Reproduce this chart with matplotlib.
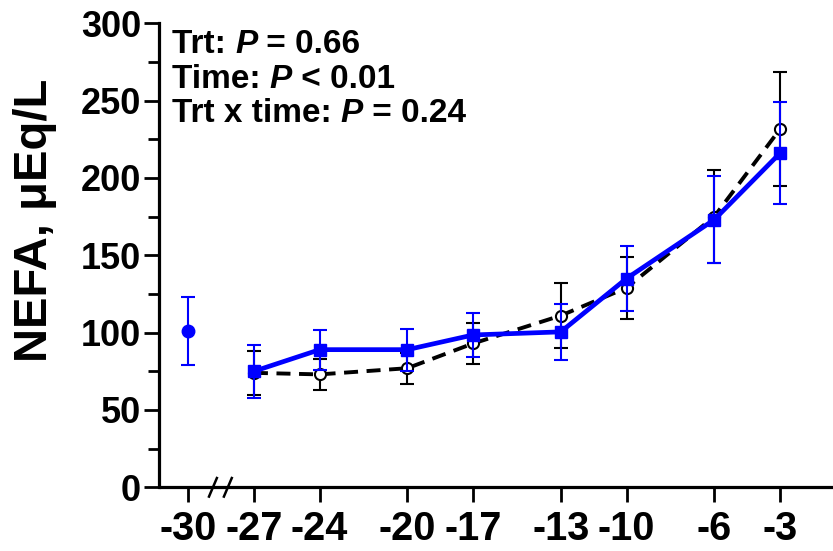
import numpy as np
import matplotlib
matplotlib.use("Agg")
import matplotlib.pyplot as plt
from matplotlib.ticker import MultipleLocator

plt.rcParams['font.family'] = ['Liberation Sans', 'DejaVu Sans']
plt.rcParams['font.weight'] = 'bold'

# days relative to calving
days = [-27, -24, -20, -17, -13, -10, -6, -3]
day_labels = ['-30', '-27', '-24', '-20', '-17', '-13', '-10', '-6', '-3']
tick_days = [-30, -27, -24, -20, -17, -13, -10, -6, -3]

# baseline sample (treated group only)
base_day = -30
base_mean = 101
base_se = 22

# NEFA, uEq/L
trt_mean = [75, 89, 89, 98.5, 100.5, 135, 173, 216]
trt_se = [17, 13, 13.5, 14.5, 18, 21, 28, 33]
ctl_mean = [74, 73, 77, 93, 111, 129, 175, 231.5]
ctl_se = [14, 10, 10, 13.5, 21, 20, 30, 37]

stats_lines = [("Trt: ", "P", " = 0.66"),
               ("Time: ", "P", " < 0.01"),
               ("Trt x time: ", "P", " = 0.24")]

fig = plt.figure(figsize=(8.33, 5.51), dpi=100)
ax = fig.add_axes([0.1909, 0.1156, 0.8091, 0.8421])

# control: dashed black, open circles
ax.errorbar(days, ctl_mean, yerr=ctl_se, color='black', lw=2.8,
            dashes=(3.6, 2.2), marker='o', ms=8, mfc='white', mec='black',
            mew=1.5, ecolor='black', elinewidth=1.5, capsize=4.8,
            capthick=1.5, zorder=2)

# treatment: solid blue, filled squares
ax.errorbar(days, trt_mean, yerr=trt_se, color='#0000ff', lw=3.4,
            marker='s', ms=8, mfc='#0000ff', mec='#0000ff',
            ecolor='#0000ff', elinewidth=1.5, capsize=4.8, capthick=1.5,
            zorder=3)

ax.errorbar([base_day], [base_mean], yerr=[base_se], color='#0000ff',
            marker='o', ms=9, ls='none', ecolor='#0000ff', elinewidth=1.5,
            capsize=4.8, capthick=1.5, zorder=3)

ax.set_xlim(-31.33, -0.58)
ax.set_ylim(0, 300)
ax.yaxis.set_major_locator(MultipleLocator(50))
ax.yaxis.set_minor_locator(MultipleLocator(25))
ax.set_xticks(tick_days)
ax.set_xticklabels(day_labels, fontsize=28.5, fontweight='bold')
ax.tick_params(axis='y', labelsize=26, width=2, length=8, pad=2)
ax.tick_params(axis='y', which='major', length=11)
ax.tick_params(axis='y', which='minor', width=2, length=8)
ax.tick_params(axis='x', width=2, length=11, pad=5)
for lab in ax.get_yticklabels():
    lab.set_fontweight('bold')

for side in ['top', 'right']:
    ax.spines[side].set_visible(False)
for side in ['left', 'bottom']:
    ax.spines[side].set_linewidth(2.3)
ax.spines['bottom'].set_capstyle('butt')

ax.set_ylabel(u"NEFA, \u03bcEq/L", fontsize=34, fontweight='bold')
ax.yaxis.set_label_coords(-0.152, 0.576)

# axis break marks between -30 and -27
for x0 in (-28.87, -28.19):
    ax.plot([x0 - 0.18, x0 + 0.18], [-6, 6], color='black', lw=1.8,
            clip_on=False, zorder=5)

# stats text, P in bold italic
y_rows = [0.936, 0.861, 0.787]
for (pre, p, post), yy in zip(stats_lines, y_rows):
    t1 = ax.text(0.019, yy, pre, transform=ax.transAxes, fontsize=24,
                 fontweight='bold', va='baseline', ha='left')
    t2 = ax.annotate(p, xy=(1, 0), xycoords=t1, fontsize=24,
                     fontweight='bold', fontstyle='italic', va='bottom', ha='left')
    ax.annotate(post, xy=(1, 0), xycoords=t2, fontsize=24,
                fontweight='bold', va='bottom', ha='left')

fig.savefig('out.png', dpi=100)
